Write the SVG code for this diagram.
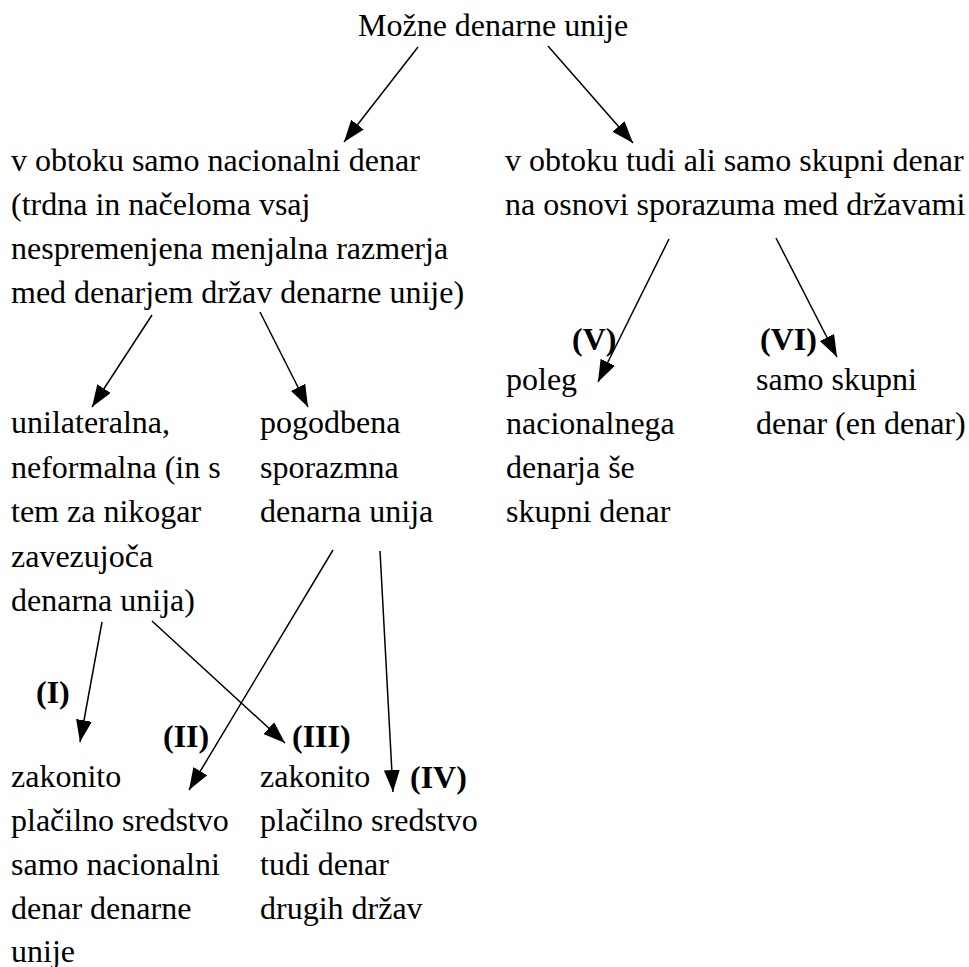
<svg xmlns="http://www.w3.org/2000/svg" width="969" height="967" viewBox="0 0 969 967">
<defs>
<style>
text{font-family:'Liberation Serif','Times New Roman',serif;font-size:32px;fill:#000}
.b{font-weight:bold}
.c line{stroke:#000;stroke-width:1.5;marker-end:url(#ah)}
</style>
<marker id="ah" viewBox="0 0 22 16" refX="22" refY="8" markerWidth="22" markerHeight="16" markerUnits="userSpaceOnUse" orient="auto">
<path d="M0,0 L22,8 L0,16 z" fill="#000"/>
</marker>
</defs>
<rect width="969" height="967" fill="#fff"/>
<g id="root"><text x="358" y="36">Možne denarne unije</text></g>
<g id="national"><text x="11" y="171"><tspan x="11">v obtoku samo nacionalni denar</tspan><tspan x="11" dy="44">(trdna in načeloma vsaj</tspan><tspan x="11" dy="44">nespremenjena menjalna razmerja</tspan><tspan x="11" dy="44">med denarjem držav denarne unije)</tspan></text></g>
<g id="common"><text x="505" y="171"><tspan x="505">v obtoku tudi ali samo skupni denar</tspan><tspan x="505" dy="44">na osnovi sporazuma med državami</tspan></text></g>
<g id="unilateral"><text x="11" y="433"><tspan x="11">unilateralna,</tspan><tspan x="11" dy="44.5">neformalna (in s</tspan><tspan x="11" dy="44.5">tem za nikogar</tspan><tspan x="11" dy="44.5">zavezujoča</tspan><tspan x="11" dy="44.5">denarna unija)</tspan></text></g>
<g id="contract"><text x="260" y="433"><tspan x="260">pogodbena</tspan><tspan x="260" dy="44.5">sporazmna</tspan><tspan x="260" dy="44.5">denarna unija</tspan></text></g>
<g id="beside"><text x="506" y="390"><tspan x="506">poleg</tspan><tspan x="506" dy="44">nacionalnega</tspan><tspan x="506" dy="44">denarja še</tspan><tspan x="506" dy="44">skupni denar</tspan></text></g>
<g id="onlycommon"><text x="756" y="390"><tspan x="756">samo skupni</tspan><tspan x="756" dy="44">denar (en denar)</tspan></text></g>
<g id="legal1"><text x="11" y="787"><tspan x="11">zakonito</tspan><tspan x="11" dy="44">plačilno sredstvo</tspan><tspan x="11" dy="44">samo nacionalni</tspan><tspan x="11" dy="44">denar denarne</tspan><tspan x="11" dy="43">unije</tspan></text></g>
<g id="legal2"><text x="260" y="787"><tspan x="260">zakonito</tspan><tspan x="260" dy="44">plačilno sredstvo</tspan><tspan x="260" dy="44">tudi denar</tspan><tspan x="260" dy="44">drugih držav</tspan></text></g>
<g id="labels">
<text class="b" x="36" y="703">(I)</text>
<text class="b" x="163" y="747">(II)</text>
<text class="b" x="292" y="747">(III)</text>
<text class="b" x="410" y="788">(IV)</text>
<text class="b" x="572" y="350">(V)</text>
<text class="b" x="760" y="350">(VI)</text>
</g>
<g id="connectors" class="c">
<line x1="418" y1="47" x2="344" y2="142"/>
<line x1="548" y1="46" x2="633" y2="143"/>
<line x1="152" y1="315" x2="92" y2="407"/>
<line x1="260" y1="312" x2="308" y2="407"/>
<line x1="669" y1="239" x2="598" y2="382"/>
<line x1="776" y1="238" x2="837" y2="357"/>
<line x1="102" y1="622" x2="80" y2="742"/>
<line x1="152" y1="621" x2="285" y2="743"/>
<line x1="333" y1="550" x2="189" y2="790"/>
<line x1="380" y1="551" x2="393" y2="792"/>
</g>
</svg>
